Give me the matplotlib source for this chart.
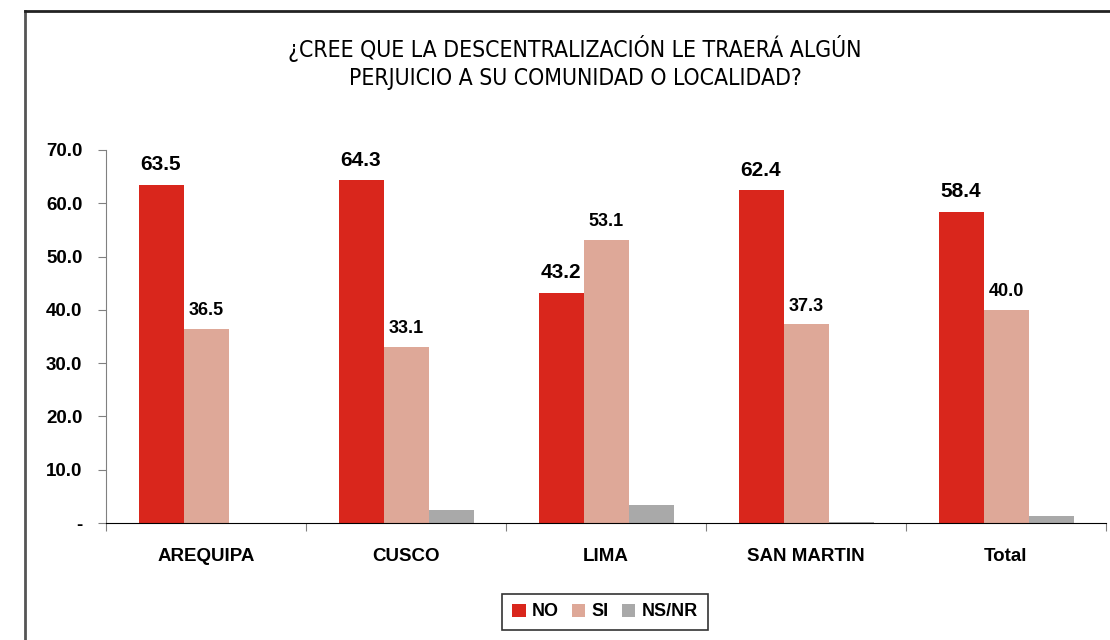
import matplotlib.pyplot as plt
import numpy as np
from matplotlib.lines import Line2D

plt.rcParams['font.family'] = ['Liberation Sans', 'DejaVu Sans']

categories = ['AREQUIPA', 'CUSCO', 'LIMA', 'SAN MARTIN', 'Total']
no_vals = [63.5, 64.3, 43.2, 62.4, 58.4]
si_vals = [36.5, 33.1, 53.1, 37.3, 40.0]
nsnr_vals = [0.0, 2.5, 3.4, 0.2, 1.3]
yticks = [0, 10, 20, 30, 40, 50, 60, 70]
ytick_labels = ['-', '10.0', '20.0', '30.0', '40.0', '50.0', '60.0', '70.0']

c_no = '#d9261c'
c_si = '#dea898'
c_ns = '#a9a9a9'

fig = plt.figure(figsize=(11.1, 6.4), dpi=100)
ax = fig.add_axes([106/1110, 1 - 523/640, 1000/1110, 373/640])

x = np.arange(len(categories))
w = 0.225
b1 = ax.bar(x - w, no_vals, w, color=c_no, label='NO')
b2 = ax.bar(x, si_vals, w, color=c_si, label='SI')
b3 = ax.bar(x + w, nsnr_vals, w, color=c_ns, label='NS/NR')

for xi, v in zip(x - w, no_vals):
    ax.text(xi, v + 2.0, '%.1f' % v, ha='center', va='bottom',
            fontsize=15, fontweight='bold')
for xi, v in zip(x, si_vals):
    ax.text(xi, v + 1.8, '%.1f' % v, ha='center', va='bottom',
            fontsize=13, fontweight='bold')

ax.set_xlim(-0.5, 4.5)
ax.set_ylim(0, 70)
ax.set_yticks(yticks)
ax.set_yticklabels(ytick_labels, fontsize=13.5, fontweight='bold')
ax.tick_params(axis='y', direction='out', length=6, color='#808080', pad=11)

# category separators as tick marks, labels centred as minor ticks
ax.set_xticks(np.arange(-0.5, 5, 1))
ax.set_xticklabels([])
ax.tick_params(axis='x', which='major', direction='out', length=6, color='#808080')
ax.set_xticks(x, minor=True)
ax.set_xticklabels(categories, minor=True, fontsize=13.5, fontweight='bold')
ax.tick_params(axis='x', which='minor', length=0, pad=18)

for s in ['top', 'right']:
    ax.spines[s].set_visible(False)
ax.spines['left'].set_color('#808080')
ax.spines['bottom'].set_color('black')

title_kw = dict(ha='center', va='center', fontsize=16.5, family='DejaVu Sans',
                fontstretch='condensed', fontweight='medium')
fig.text(575/1110, 1 - 48/640, '¿CREE QUE LA DESCENTRALIZACIÓN LE TRAERÁ ALGÚN', **title_kw)
fig.text(575/1110, 1 - 78/640, 'PERJUICIO A SU COMUNIDAD O LOCALIDAD?', **title_kw)

leg = fig.legend(handles=[b1, b2, b3], loc='center', bbox_to_anchor=(605/1110, 1 - 612/640),
                 ncol=3, frameon=True, fancybox=False, handlelength=0.75, handleheight=0.75,
                 handletextpad=0.35, columnspacing=0.7, borderpad=0.55, borderaxespad=0,
                 prop={'size': 13, 'weight': 'bold'})
leg.get_frame().set_edgecolor('black')
leg.get_frame().set_linewidth(1.2)

# outer frame lines (left and top)
fig.add_artist(Line2D([25/1110, 25/1110], [0, 1 - 11/640], color='#555555', lw=2))
fig.add_artist(Line2D([25/1110, 1], [1 - 11/640, 1 - 11/640], color='#222222', lw=2))

fig.savefig('out.png', dpi=100)
